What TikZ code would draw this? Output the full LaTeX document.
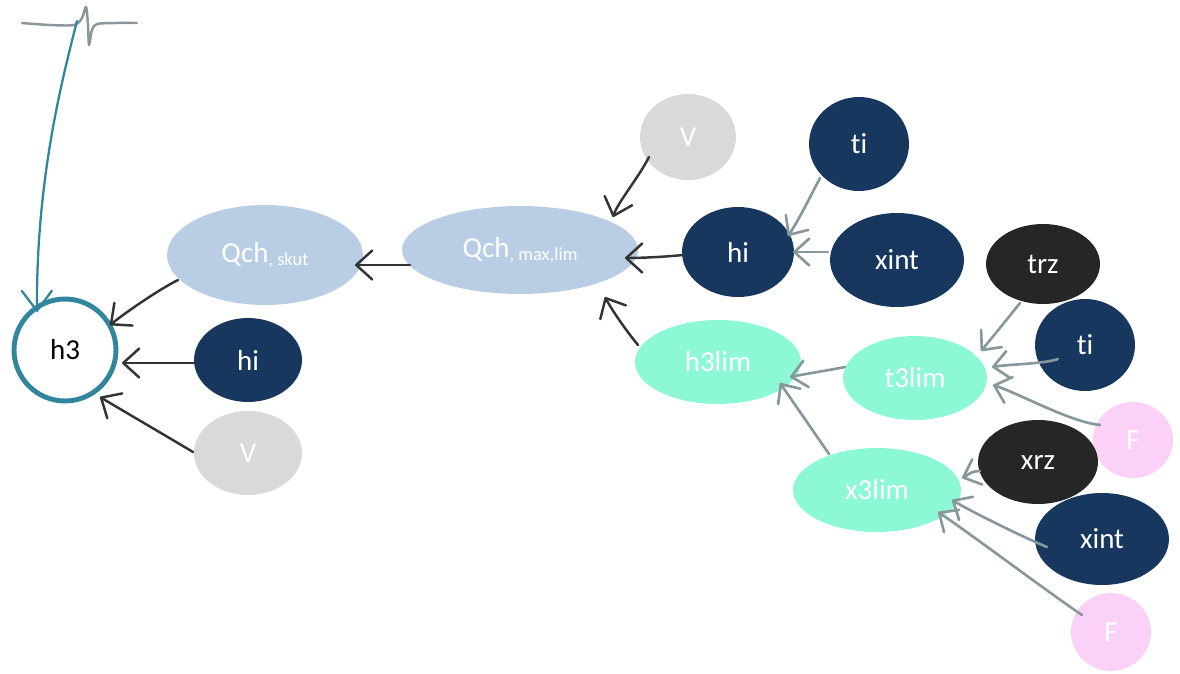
\documentclass[tikz,border=0pt]{standalone}
\usepackage{fontspec}
\setmainfont{Carlito}[Ligatures=NoCommon]
\usetikzlibrary{shapes.geometric,arrows.meta,calc}
\definecolor{navy}{HTML}{17375E}
\definecolor{lblue}{HTML}{B9CDE5}
\definecolor{lgray}{HTML}{D9D9D9}
\definecolor{aqua}{HTML}{8DF8D6}
\definecolor{pinkf}{HTML}{FAD1F7}
\definecolor{darkn}{HTML}{262626}
\definecolor{tealc}{HTML}{31859C}
\definecolor{agray}{HTML}{87989C}
\definecolor{ablack}{HTML}{333333}
\definecolor{sgray}{HTML}{8A9699}
\newcommand{\subtxt}[1]{\raisebox{-1.5pt}{\fontsize{10.5}{12}\selectfont #1}}
\begin{document}
\begin{tikzpicture}[x=0.02cm,y=-0.02cm,
  ell/.style 2 args={ellipse, inner sep=0pt, minimum width=#1*0.04cm, minimum height=#2*0.04cm, text=white, font=\fontsize{16.5}{19}\selectfont},
  blk/.style={draw=ablack, line width=1.4pt, line cap=round, line join=round, -{Straight Barb[length=3.2mm,width=5.8mm,round]}},
  gry/.style={draw=agray, line width=1.5pt, line cap=round, line join=round, -{Straight Barb[length=3mm,width=5.4mm,round]}},
  tl/.style={draw=tealc, line width=1.3pt, line cap=round, -{Straight Barb[length=4mm,width=6mm,round]}},
]
\useasboundingbox (0,0) rectangle (1180,673);

% nodes
\node[circle, draw=tealc, line width=2.8pt, minimum size=2.04cm, inner sep=0pt, font=\fontsize{16.5}{19}\selectfont, text=black] (h3) at (65,350) {h3};
\node[ell={98}{50}, fill=lblue] (qskut) at (265,255) {Qch\subtxt{, skut}};
\node[ell={118}{44}, fill=lblue] (qmax) at (520,250) {Qch\subtxt{, max,lim}};
\node[ell={54}{42}, fill=navy] (hil) at (248,360) {hi};
\node[ell={54}{42}, fill=lgray] (vl) at (248,453) {V};
\node[ell={48}{43}, fill=lgray] (vt) at (688,137) {V};
\node[ell={50}{47}, fill=navy] (tit) at (859,144) {ti};
\node[ell={56}{45}, fill=navy] (him) at (738,252) {hi};
\node[ell={67}{47}, fill=navy] (xim) at (897,260) {xint};
\node[ell={57}{40}, fill=darkn] (trz) at (1043,264) {trz};
\node[ell={50}{46}, fill=navy] (tir) at (1085,345) {ti};
\node[ell={83}{42}, fill=aqua] (h3lim) at (718,362) {h3lim};
\node[ell={72}{42}, fill=aqua] (t3lim) at (915,378) {t3lim};
\node[ell={40}{38}, fill=pinkf] (fu) at (1133,440) {F};
\node[ell={60}{42}, fill=darkn] (xrz) at (1038,462) {xrz};
\node[ell={84}{42}, fill=aqua] (x3lim) at (877,490) {x3lim};
\node[ell={67}{46}, fill=navy] (xil) at (1102,539) {xint};
\node[ell={40}{39}, fill=pinkf] (fl) at (1111,632) {F};

% top-left scribble and teal arrow
\draw[sgray, line width=1.4pt, line cap=round, line join=round]
  plot[smooth, tension=0.5] coordinates {(22,23) (50,25) (74,25) (82,18) (86,7) (88,25) (89,45) (92,30) (97,24) (115,23) (137,23)};
\coordinate (tstart) at (77,21);
\draw[tl] (tstart) .. controls +(-15,59) and +(-1,-132) .. ($(h3)+(-28,-38)$);

% black arrows
\draw[blk] ($(qmax)+(-110,15)$) -- ($(qskut)+(90,10)$);
\draw[blk] ($(qskut)+(-87,25)$) .. controls +(-20,10) and +(15,-12) .. ($(h3)+(45,-25)$);
\draw[blk] ($(hil)+(-53,3)$) -- ($(h3)+(57,13)$);
\draw[blk] ($(vl)+(-55,-1)$) .. controls +(-20,-12) and +(20,12) .. ($(h3)+(35,47)$);
\draw[blk] ($(vt)+(-39,20)$) .. controls +(-10,20) and +(5,-15) .. ($(qmax)+(93,-33)$);
\draw[blk] ($(him)+(-55,3)$) .. controls +(-20,2) and +(15,0) .. ($(qmax)+(105,8)$);
\draw[blk] ($(h3lim)+(-80,-17)$) .. controls +(-10,-12) and +(8,15) .. ($(qmax)+(85,47)$);

% gray arrows
\draw[gry] ($(tit)+(-39,34)$) .. controls +(-8,15) and +(12,-18) .. ($(him)+(50,-16)$);
\draw[gry] ($(xim)+(-69,-8)$) -- ($(him)+(55,0)$);
\draw[gry] ($(trz)+(-23,39)$) .. controls +(-8,10) and +(15,-18) .. ($(t3lim)+(66,-27)$);
\draw[gry] ($(tir)+(-27,14)$) .. controls +(-15,5) and +(20,-3) .. ($(t3lim)+(77,-11)$);
\draw[gry] ($(fu)+(-33,-15)$) .. controls +(-30,-3) and +(25,8) .. ($(t3lim)+(78,7)$);
\draw[gry] ($(t3lim)+(-70,-11)$) .. controls +(-15,3) and +(15,-3) .. ($(h3lim)+(72,15)$);
\draw[gry] ($(x3lim)+(-48,-36)$) -- ($(h3lim)+(62,21)$);
\draw[gry] ($(xrz)+(-58,9)$) .. controls +(-10,0) and +(5,-2) .. ($(x3lim)+(85,-12)$);
\draw[gry] ($(xil)+(-55,8)$) .. controls +(-20,-8) and +(20,12) .. ($(x3lim)+(75,10)$);
\draw[gry] ($(fl)+(-29,-17)$) .. controls +(-30,-20) and +(30,20) .. ($(x3lim)+(61,22)$);
\end{tikzpicture}
\end{document}
